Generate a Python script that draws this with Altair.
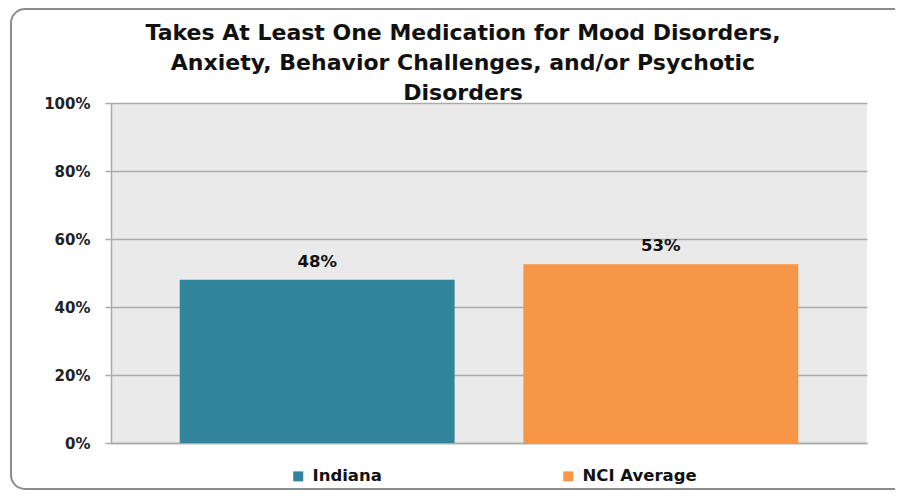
import altair as alt
import pandas as pd

categories = ["Indiana", "NCI Average"]
values = [0.48, 0.526]
labels = ["48%", "53%"]
colors = ["#31849B", "#F79646"]
y_ticks = [0, 0.2, 0.4, 0.6, 0.8, 1.0]
title_lines = ["Takes At Least One Medication for Mood Disorders,",
               "Anxiety, Behavior Challenges, and/or Psychotic",
               "Disorders"]

df = pd.DataFrame({"cat": categories, "val": values, "lab": labels})

W, H = 756, 340
BC = "#8c8c8c"
one = alt.Data(values=[{"a": 1}])

# decorative frame around the whole chart (open on the right, as in the reference)
frame_top = alt.Chart(one).mark_rule(color=BC, strokeWidth=2).encode(
    x=alt.value(-86), x2=alt.value(1000), y=alt.value(-94))
frame_bottom = alt.Chart(one).mark_rule(color=BC, strokeWidth=2).encode(
    x=alt.value(-86), x2=alt.value(1000), y=alt.value(386))
frame_left = alt.Chart(one).mark_rule(color=BC, strokeWidth=2).encode(
    x=alt.value(-100), y=alt.value(-80), y2=alt.value(372))
corner_tl = alt.Chart(one).mark_arc(color=BC).encode(
    x=alt.value(-86), y=alt.value(-80), theta=alt.value(4.7124), theta2=alt.value(6.2832),
    radius=alt.value(15), radius2=alt.value(13))
corner_bl = alt.Chart(one).mark_arc(color=BC).encode(
    x=alt.value(-86), y=alt.value(372), theta=alt.value(3.1416), theta2=alt.value(4.7124),
    radius=alt.value(15), radius2=alt.value(13))

xenc = alt.X("cat:N", sort=categories, title=None,
             scale=alt.Scale(paddingInner=0.2, paddingOuter=0.2),
             axis=alt.Axis(labels=False, ticks=False, domain=True,
                           domainColor="#aaaaaa", domainWidth=1.5))

yenc = alt.Y("val:Q", title=None,
             scale=alt.Scale(domain=[0, 1], nice=False),
             axis=alt.Axis(values=y_ticks, format=".0%", grid=True,
                           gridColor="#aaaaaa", gridWidth=1.5,
                           domainColor="#aaaaaa", domainWidth=1.5,
                           tickColor="#aaaaaa", tickWidth=1.5, tickSize=6,
                           labelPadding=15, labelFont="DejaVu Sans",
                           labelFontWeight="bold", labelFontSize=15,
                           labelColor="#222222"))

bars = alt.Chart(df).mark_bar().encode(
    x=xenc,
    y=yenc,
    color=alt.Color("cat:N", sort=categories, title=None,
                    scale=alt.Scale(domain=categories, range=colors),
                    legend=alt.Legend(orient="none", legendX=179, legendY=365,
                                      direction="horizontal", symbolType="square",
                                      symbolSize=100, symbolStrokeWidth=0,
                                      labelFont="DejaVu Sans", labelFontWeight="bold",
                                      labelFontSize=16.5, labelColor="#111111",
                                      columnPadding=178, padding=0, labelOffset=6))
)

text = alt.Chart(df).mark_text(
    dy=-18, font="DejaVu Sans", fontWeight="bold", fontSize=16.5, color="#111111",
    baseline="middle"
).encode(
    x=alt.X("cat:N", sort=categories),
    y="val:Q",
    text="lab:N"
)

chart = alt.layer(frame_top, frame_bottom, frame_left, corner_tl, corner_bl,
                  bars, text).properties(
    width=W, height=H,
    autosize=alt.AutoSizeParams(type="none"),
    padding={"left": 103, "top": 95, "right": 28, "bottom": 48},
    title=alt.TitleParams(text=title_lines, font="DejaVu Sans", fontWeight="bold",
                          fontSize=22, lineHeight=30, color="#111111",
                          anchor="middle", dx=-26, offset=-97)
).configure_view(stroke=None, fill="#EAEAEA")

chart.save("out.html", embed_options={"renderer": "svg", "actions": False})
